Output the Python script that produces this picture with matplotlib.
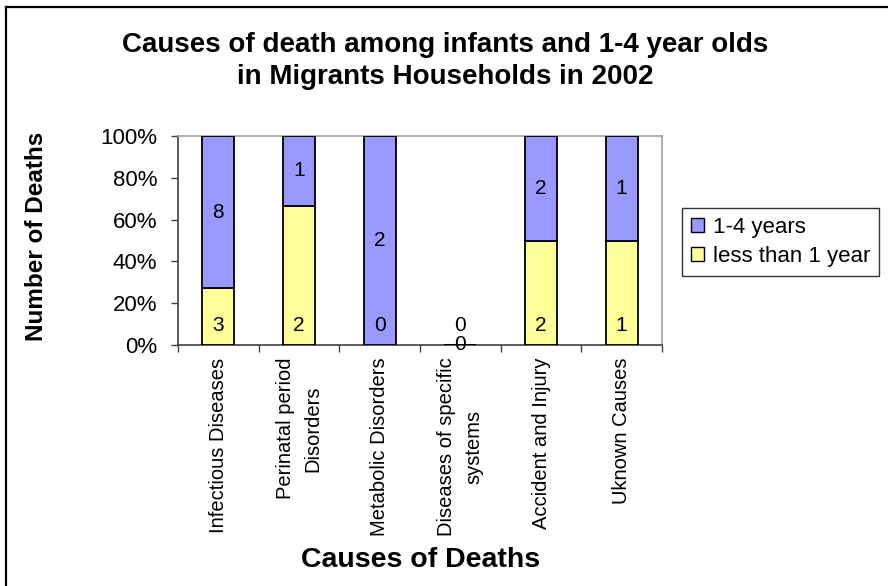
import matplotlib
matplotlib.use("Agg")
import matplotlib.pyplot as plt
import numpy as np
from matplotlib.lines import Line2D
from matplotlib.patches import Patch

# data
categories = ["Infectious Diseases", "Perinatal period\nDisorders", "Metabolic Disorders",
              "Diseases of specific\nsystems", "Accident and Injury", "Uknown Causes"]
less_than_1 = [3, 2, 0, 0, 2, 1]
one_to_four = [8, 1, 2, 0, 2, 1]
yticks = [0, 0.2, 0.4, 0.6, 0.8, 1.0]

yellow = "#FFFF99"
purple = "#9999FF"

plt.rcParams['font.family'] = ['Liberation Sans', 'DejaVu Sans']

W, H = 888, 586
fig = plt.figure(figsize=(W / 100, H / 100), dpi=100)
ax = fig.add_axes([178 / W, 1 - 345 / H, (662 - 178) / W, (345 - 136) / H])

x = np.arange(len(categories))
lt1 = np.array(less_than_1, dtype=float)
o14 = np.array(one_to_four, dtype=float)
total = lt1 + o14
safe = np.where(total == 0, 1, total)
p_lt1 = lt1 / safe
p_o14 = o14 / safe

ax.bar(x, p_lt1, 0.4, color=yellow, edgecolor="black", linewidth=1.3, zorder=3)
ax.bar(x, p_o14, 0.4, bottom=p_lt1, color=purple, edgecolor="black", linewidth=1.3, zorder=3)

# value labels: yellow ones sit at the base, purple ones centred
for xi, v in zip(x, less_than_1):
    ax.annotate(str(v), (xi, 0), xytext=(0, 10), textcoords="offset points",
                ha="center", va="baseline", fontsize=15, zorder=5)
for xi, b, h, v in zip(x, p_lt1, p_o14, one_to_four):
    ax.text(xi, b + h / 2, str(v), ha="center", va="center", fontsize=15, zorder=5)

ax.set_xlim(-0.5, len(categories) - 0.5)
ax.set_ylim(0, 1)

ax.set_xticks(np.arange(-0.5, len(categories)), labels=[])
ax.set_xticks(x, minor=True)
ax.set_xticklabels(categories, minor=True, rotation=90, ha="center", va="top",
                   multialignment="center", fontsize=14.5, linespacing=1.55)
ax.tick_params(axis="x", which="major", direction="out", length=5, width=1, color="#404040")
ax.tick_params(axis="x", which="minor", length=0, pad=9)

ax.set_yticks(yticks)
ax.set_yticklabels(["%d%%" % round(t * 100) for t in yticks], fontsize=16)
ax.tick_params(axis="y", direction="out", length=5, width=1, color="#404040", pad=10)

for side in ["left", "bottom"]:
    ax.spines[side].set_color("#404040")
    ax.spines[side].set_linewidth(1.2)
for side in ["top", "right"]:
    ax.spines[side].set_color("#a0a0a0")
    ax.spines[side].set_linewidth(1.2)

fig.text(445 / W, 1 - 61 / H, "Causes of death among infants and 1-4 year olds\nin Migrants Households in 2002",
         ha="center", va="center", fontsize=20, fontweight="bold", linespacing=1.3)
fig.text(421 / W, 1 - 560 / H, "Causes of Deaths", ha="center", va="center",
         fontsize=20.5, fontweight="bold")
fig.text(37 / W, 1 - 236 / H, "Number of Deaths", rotation=90, ha="center", va="center",
         fontsize=17.5, fontweight="bold")

handles = [Patch(facecolor=purple, edgecolor="black", linewidth=1, label="1-4 years"),
           Patch(facecolor=yellow, edgecolor="black", linewidth=1, label="less than 1 year")]
leg = fig.legend(handles=handles, loc="upper left", bbox_to_anchor=(682 / W, 1 - 208 / H),
                 frameon=True, fancybox=False, edgecolor="black", fontsize=16,
                 handlelength=0.6, handleheight=0.6, handletextpad=0.4,
                 borderpad=0.4, labelspacing=0.35, borderaxespad=0)
leg.get_frame().set_linewidth(1)

# chart area border (only left and top edges are visible)
fig.add_artist(Line2D([6 / W, 6 / W], [0, 1 - 6.5 / H], color="black", lw=1.6,
                      transform=fig.transFigure))
fig.add_artist(Line2D([6 / W, 1], [1 - 6.5 / H, 1 - 6.5 / H], color="black", lw=1.6,
                      transform=fig.transFigure))

fig.savefig("out.png", dpi=100)
